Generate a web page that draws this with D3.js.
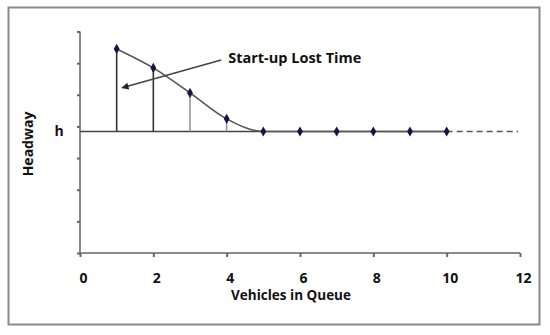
<!DOCTYPE html>
<html><head><meta charset="utf-8">
<script src="https://cdn.jsdelivr.net/npm/d3@7"></script>
<style>body{margin:0;background:#fff}svg{display:block}</style>
</head><body>
<script>
const vehicles = [1,2,3,4,5,6,7,8,9,10];
const headway = [6.45,5.85,5.06,4.24,3.84,3.84,3.84,3.84,3.84,3.84];
const hLevel = 3.84;
const xTicks = [0,2,4,6,8,10,12];
const yTicks = [0,1,2,3,4,5,6,7];
const dropColors = ["#333","#333","#999","#999"];
const annotation = {text:"Start-up Lost Time", from:[3.85,6.1], to:[1.15,5.22]};

const W=550,H=335;
const svg=d3.select("body").append("svg").attr("width",W).attr("height",H);
const font="'Open Sans', sans-serif";

svg.append("rect").attr("x",8.5).attr("y",7.5).attr("width",531).attr("height",317)
  .attr("fill","#fff").attr("stroke","#8a8a8a").attr("stroke-width",2);

const x=d3.scaleLinear().domain([0,12]).range([80,520]);
const y=d3.scaleLinear().domain([0,7]).range([253,31.5]);

// y axis
const yAxis=svg.append("g").attr("transform","translate(80,0)")
  .call(d3.axisLeft(y).tickValues(yTicks).tickSize(3).tickFormat(""));
yAxis.select(".domain").attr("stroke","#8a8a8a").attr("stroke-width",2).attr("d","M0,253V31.5");
yAxis.selectAll(".tick line").attr("stroke","#666").attr("stroke-width",2);

// x axis
const xAxis=svg.append("g").attr("transform","translate(0,253)")
  .call(d3.axisBottom(x).tickValues(xTicks).tickSize(4).tickFormat(d3.format("d")));
xAxis.select(".domain").attr("stroke","#8a8a8a").attr("stroke-width",2).attr("d","M80,0H520");
xAxis.selectAll(".tick line").attr("stroke","#666").attr("stroke-width",2);
xAxis.selectAll(".tick text").attr("dy",0).attr("y",30).attr("x",3).attr("font-family",font)
  .attr("font-weight","bold").attr("font-size",14).attr("fill","#111");

// h line
svg.append("line").attr("x1",x(0)).attr("x2",x(10)).attr("y1",y(hLevel)).attr("y2",y(hLevel))
  .attr("stroke","#444").attr("stroke-width",1.6);
svg.append("line").attr("x1",x(10)).attr("x2",x(11.95)).attr("y1",y(hLevel)).attr("y2",y(hLevel))
  .attr("stroke","#555").attr("stroke-width",1.6).attr("stroke-dasharray","6,4");

// drop lines
svg.selectAll(".drop").data(vehicles.slice(0,4)).enter().append("line")
  .attr("x1",d=>x(d)).attr("x2",d=>x(d))
  .attr("y1",(d,i)=>y(headway[i])).attr("y2",y(hLevel))
  .attr("stroke",(d,i)=>dropColors[i]).attr("stroke-width",1.6);

// curve
const pts=vehicles.map((v,i)=>[v,headway[i]]);
svg.append("path").datum(pts)
  .attr("d",d3.line().x(d=>x(d[0])).y(d=>y(d[1])).curve(d3.curveMonotoneX))
  .attr("fill","none").attr("stroke","#555").attr("stroke-width",1.6);

// markers
svg.selectAll(".pt").data(pts).enter().append("path")
  .attr("d",d3.symbol(d3.symbolDiamond,30))
  .attr("transform",d=>`translate(${x(d[0])},${y(d[1])})`)
  .attr("fill","#141447");

// arrow
svg.append("defs").append("marker").attr("id","ah").attr("viewBox","0 0 10 10")
  .attr("refX",9).attr("refY",5).attr("markerWidth",8).attr("markerHeight",7)
  .attr("orient","auto").attr("markerUnits","userSpaceOnUse")
  .append("path").attr("d","M0,0L10,5L0,10Z").attr("fill","#222");
svg.append("line")
  .attr("x1",x(annotation.from[0])).attr("y1",y(annotation.from[1]))
  .attr("x2",x(annotation.to[0])).attr("y2",y(annotation.to[1]))
  .attr("stroke","#444").attr("stroke-width",1.6).attr("marker-end","url(#ah)");
svg.append("text").attr("x",x(annotation.from[0])+7).attr("y",y(annotation.from[1])+3)
  .attr("font-family",font).attr("font-weight","bold").attr("font-size",14.5).attr("fill","#111")
  .text(annotation.text);

// h label
svg.append("text").attr("x",59).attr("y",y(hLevel)+5).attr("text-anchor","middle")
  .attr("font-family",font).attr("font-weight","bold").attr("font-size",14).attr("fill","#111").text("h");

// axis titles
svg.append("text").attr("transform","translate(33,144) rotate(-90)").attr("text-anchor","middle")
  .attr("font-family",font).attr("font-weight","bold").attr("font-size",14).attr("fill","#111").text("Headway");
svg.append("text").attr("x",291).attr("y",300).attr("text-anchor","middle")
  .attr("font-family",font).attr("font-weight","bold").attr("font-size",13.5).attr("fill","#111").text("Vehicles in Queue");
</script>
</body></html>
